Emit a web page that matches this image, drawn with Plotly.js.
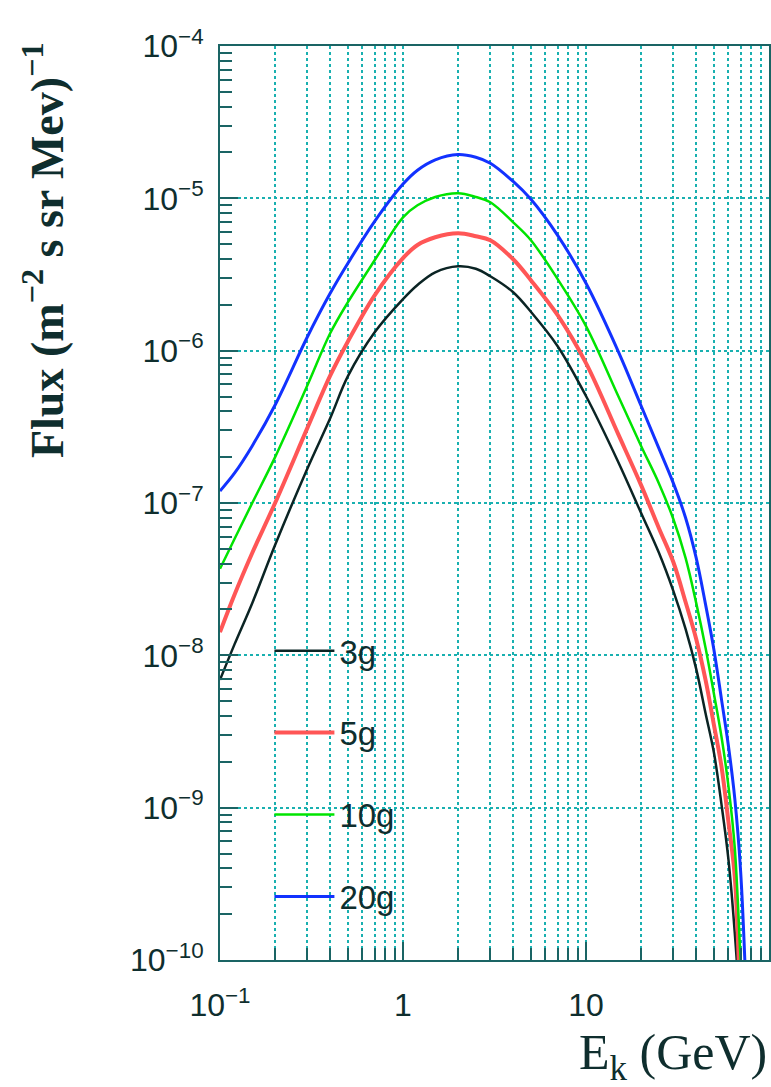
<!DOCTYPE html>
<html>
<head>
<meta charset="utf-8">
<script src="https://cdn.plot.ly/plotly-3.0.1.min.js"></script>
<style>
html,body{margin:0;padding:0;background:#ffffff;}
#chart{width:771px;height:1087px;}
</style>
</head>
<body>
<div id="chart"></div>
<script>
// Kinetic energy (GeV)
const energyGeV = [0.1, 0.12, 0.15, 0.2, 0.3, 0.4, 0.5, 0.7, 1, 1.2, 1.5, 2, 2.5, 3, 4, 5, 7, 10, 15, 20, 25, 30, 35, 40, 45, 50, 55, 60, 65, 70, 75];

// Flux (m^-2 s sr MeV)^-1 for each depth
const flux3g  = [6.9e-9, 1.18e-8, 2.2e-8, 5.3e-8, 1.68e-7, 3.6e-7, 6.8e-7, 1.32e-6, 2.18e-6, 2.70e-6, 3.27e-6, 3.58e-6, 3.45e-6, 3.08e-6, 2.42e-6, 1.80e-6, 1.07e-6, 5.04e-7, 1.86e-7, 8.6e-8, 4.73e-8, 2.65e-8, 1.49e-8, 8.15e-9, 4.17e-9, 2.30e-9, 1.05e-9, 4.6e-10, 1.51e-10, 3.8e-11, 5e-12];
const flux5g  = [1.42e-8, 2.5e-8, 4.7e-8, 1.0e-7, 3.1e-7, 6.86e-7, 1.15e-6, 2.31e-6, 4.05e-6, 4.94e-6, 5.55e-6, 5.89e-6, 5.64e-6, 5.31e-6, 3.98e-6, 2.90e-6, 1.71e-6, 8.28e-7, 2.83e-7, 1.31e-7, 6.86e-8, 4.10e-8, 2.24e-8, 1.28e-8, 6.9e-9, 3.50e-9, 1.86e-9, 8.1e-10, 3.53e-10, 4.7e-11, 8e-12];
const flux10g = [3.7e-8, 5.8e-8, 1.0e-7, 2.0e-7, 5.9e-7, 1.30e-6, 2.08e-6, 3.92e-6, 7.50e-6, 9.0e-6, 1.02e-5, 1.08e-5, 1.02e-5, 9.42e-6, 6.96e-6, 5.31e-6, 2.95e-6, 1.45e-6, 5.04e-7, 2.37e-7, 1.35e-7, 7.85e-8, 4.36e-8, 2.21e-8, 1.12e-8, 5.60e-9, 2.92e-9, 1.39e-9, 5.47e-10, 1.0e-10, 2.5e-11];
const flux20g = [1.20e-7, 1.57e-7, 2.37e-7, 4.40e-7, 1.23e-6, 2.38e-6, 3.75e-6, 7.06e-6, 1.24e-5, 1.53e-5, 1.79e-5, 1.94e-5, 1.86e-5, 1.70e-5, 1.29e-5, 9.85e-6, 5.71e-6, 2.77e-6, 9.9e-7, 4.35e-7, 2.29e-7, 1.35e-7, 8.0e-8, 4.36e-8, 2.16e-8, 1.09e-8, 5.14e-9, 2.55e-9, 1.15e-9, 3.8e-10, 6e-11];

const seriesNames = ['3g', '5g', '10g', '20g'];

// Tick labels
const xTickVals = [0.1, 1, 10];
const xTickText = ['10<sup>\u22121</sup>', '1', '10'];
const yTickVals = [1e-10, 1e-9, 1e-8, 1e-7, 1e-6, 1e-5, 1e-4];
const yTickText = ['10<sup>\u221210</sup>', '10<sup>\u22129</sup>', '10<sup>\u22128</sup>', '10<sup>\u22127</sup>', '10<sup>\u22126</sup>', '10<sup>\u22125</sup>', '10<sup>\u22124</sup>'];

const yTitle = 'Flux (m<sup>\u22122</sup> s sr Mev)<sup>\u22121</sup>';
const xTitle = 'E<sub>k</sub> (GeV)';

const colors = ['#0b2424', '#ff5656', '#00e400', '#1232ff'];
const widths = [2.5, 4, 2.5, 3];
const fluxes = [flux3g, flux5g, flux10g, flux20g];

const traces = fluxes.map((f, i) => ({
  x: energyGeV,
  y: f,
  type: 'scatter',
  mode: 'lines',
  name: seriesNames[i],
  legendgroup: 'g' + i,
  line: {color: colors[i], width: widths[i], shape: 'spline', smoothing: 1.0}
}));

const axisColor = '#1a6464';
const gridColor = '#19b0b0';
const textColor = '#0f2e2e';
const tickFont = {family: 'Liberation Sans, Arial, sans-serif', size: 32, color: textColor};

const layout = {
  width: 771,
  height: 1087,
  margin: {l: 220, r: 2, t: 46, b: 127},
  paper_bgcolor: '#ffffff',
  plot_bgcolor: '#ffffff',
  showlegend: true,
  legend: {
    x: 0.09, y: 0.369, xanchor: 'left', yanchor: 'top',
    bgcolor: 'rgba(0,0,0,0)',
    font: {family: 'Liberation Sans, Arial, sans-serif', size: 33, color: textColor},
    tracegroupgap: 36,
    itemwidth: 60,
    traceorder: 'grouped'
  },
  xaxis: {
    type: 'log',
    range: [-1, 2],
    showline: true, linecolor: axisColor, linewidth: 2, mirror: true,
    ticks: 'inside', ticklen: 18, tickwidth: 2, tickcolor: axisColor,
    tickmode: 'array', tickvals: xTickVals, ticktext: xTickText,
    tickfont: tickFont,
    ticklabelstandoff: 16,
    showgrid: true, gridcolor: gridColor, gridwidth: 2, griddash: '3px,3px',
    minor: {dtick: 'D1', ticks: 'inside', ticklen: 12, tickwidth: 2, tickcolor: axisColor,
            showgrid: true, gridcolor: gridColor, gridwidth: 2, griddash: '3px,3px'},
    zeroline: false
  },
  yaxis: {
    type: 'log',
    range: [-10, -4],
    showline: true, linecolor: axisColor, linewidth: 2, mirror: true,
    ticks: 'inside', ticklen: 18, tickwidth: 2, tickcolor: axisColor,
    tickmode: 'array', tickvals: yTickVals, ticktext: yTickText,
    tickfont: tickFont,
    ticklabelstandoff: 8,
    showgrid: true, gridcolor: gridColor, gridwidth: 2, griddash: '3px,3px',
    minor: {dtick: 'D1', ticks: 'inside', ticklen: 12, tickwidth: 2, tickcolor: axisColor, showgrid: false},
    zeroline: false
  },
  annotations: [
    {
      text: yTitle, xref: 'paper', yref: 'paper', x: -0.322, y: 0.777,
      xanchor: 'center', yanchor: 'middle', textangle: -90, showarrow: false,
      font: {family: 'Liberation Serif, Times New Roman, serif', size: 46, color: textColor, weight: 'bold'}
    },
    {
      text: xTitle, xref: 'paper', yref: 'paper', x: 1.0, y: -0.068,
      xanchor: 'right', yanchor: 'top', showarrow: false,
      font: {family: 'Liberation Serif, Times New Roman, serif', size: 50, color: textColor}
    }
  ]
};

Plotly.newPlot('chart', traces, layout, {displayModeBar: false, staticPlot: true});
</script>
</body>
</html>
